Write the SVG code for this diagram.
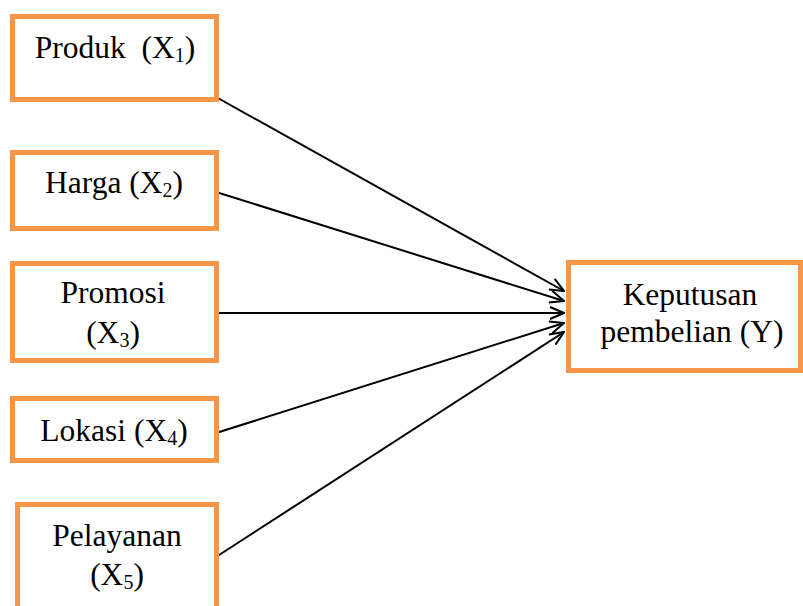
<svg xmlns="http://www.w3.org/2000/svg" width="803" height="606" viewBox="0 0 803 606">
<style>
.box{fill:#fff;stroke:#F79646;stroke-width:5}
.t{font-family:"Liberation Serif","Times New Roman",serif;font-size:31.5px;fill:#000;text-anchor:middle}
.s{font-size:20px}
.c{stroke:#000;stroke-width:2;fill:none;marker-end:url(#ah)}
</style>
<defs>
<marker id="ah" viewBox="0 0 16 14" refX="15" refY="7" markerWidth="16" markerHeight="14" markerUnits="userSpaceOnUse" orient="auto">
<path d="M1,1 L15,7 L1,13" fill="none" stroke="#000" stroke-width="2"/>
</marker>
</defs>
<rect width="803" height="606" fill="#fff"/>
<g id="connectors">
<line class="c" x1="216" y1="97" x2="564" y2="291"/>
<line class="c" x1="216" y1="192" x2="564" y2="301"/>
<line class="c" x1="216" y1="313" x2="564" y2="313"/>
<line class="c" x1="216" y1="433" x2="564" y2="323"/>
<line class="c" x1="216" y1="557" x2="564" y2="332"/>
</g>
<g id="n1">
<rect class="box" x="12.5" y="16.5" width="204" height="83"/>
<text class="t" x="115" y="58">Produk &#160;(X<tspan class="s" dy="4">1</tspan><tspan dy="-4">)</tspan></text>
</g>
<g id="n2">
<rect class="box" x="12.5" y="152.5" width="204" height="76"/>
<text class="t" x="114" y="193">Harga (X<tspan class="s" dy="4">2</tspan><tspan dy="-4">)</tspan></text>
</g>
<g id="n3">
<rect class="box" x="12.5" y="263.5" width="204" height="97"/>
<text class="t" x="113" y="303">Promosi</text>
<text class="t" x="113" y="343">(X<tspan class="s" dy="4">3</tspan><tspan dy="-4">)</tspan></text>
</g>
<g id="n4">
<rect class="box" x="12.5" y="398.5" width="204" height="62"/>
<text class="t" x="114" y="441">Lokasi (X<tspan class="s" dy="4">4</tspan><tspan dy="-4">)</tspan></text>
</g>
<g id="n5">
<rect class="box" x="17.5" y="504.5" width="199" height="120"/>
<text class="t" x="117" y="546">Pelayanan</text>
<text class="t" x="117" y="585">(X<tspan class="s" dy="4">5</tspan><tspan dy="-4">)</tspan></text>
</g>
<g id="y">
<rect class="box" x="568.5" y="262.5" width="232" height="108"/>
<text class="t" x="690" y="305">Keputusan</text>
<text class="t" x="692" y="342">pembelian (Y)</text>
</g>
</svg>
